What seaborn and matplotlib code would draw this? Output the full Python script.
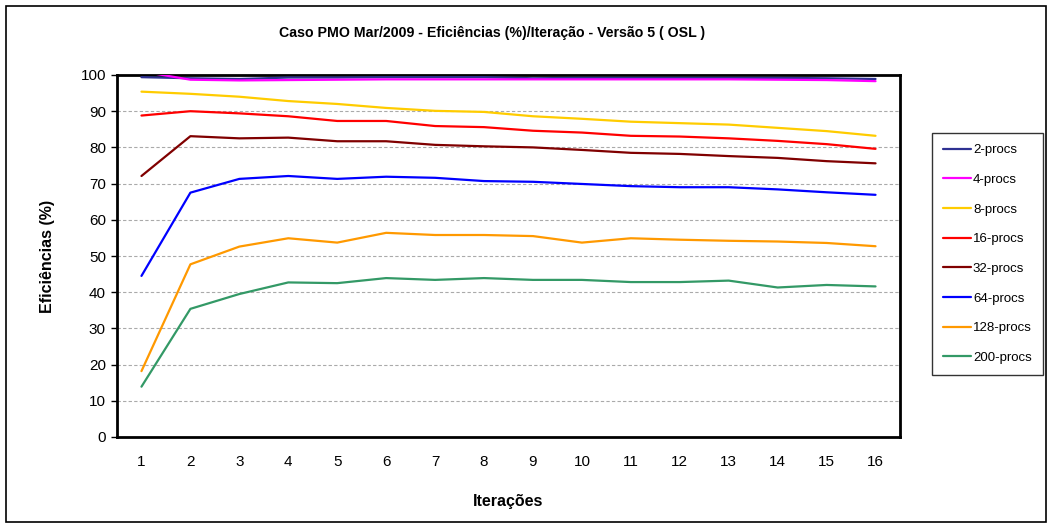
import numpy as np
import pandas as pd
import matplotlib
matplotlib.use("Agg")
import matplotlib.pyplot as plt
import seaborn as sns
from matplotlib.patches import Rectangle

iteracoes = list(range(1, 17))
series_names = ["2-procs", "4-procs", "8-procs", "16-procs",
                "32-procs", "64-procs", "128-procs", "200-procs"]

procs_2 = [99.4, 99.1, 98.9, 99.3, 99.3, 99.4, 99.4, 99.4,
           99.1, 99.2, 99.2, 99.2, 99.2, 99.2, 99.1, 98.9]
procs_4 = [101.0, 98.7, 98.5, 98.6, 98.7, 98.8, 98.8, 98.8,
           98.8, 98.8, 98.8, 98.8, 98.8, 98.7, 98.6, 98.3]
procs_8 = [95.4, 94.8, 94.0, 92.8, 92.0, 90.9, 90.1, 89.8,
           88.6, 87.9, 87.1, 86.7, 86.3, 85.4, 84.5, 83.2]
procs_16 = [88.8, 90.0, 89.4, 88.6, 87.3, 87.3, 85.9, 85.6,
            84.6, 84.1, 83.2, 83.0, 82.5, 81.8, 80.9, 79.6]
procs_32 = [72.1, 83.1, 82.5, 82.7, 81.7, 81.7, 80.7, 80.3,
            80.0, 79.3, 78.5, 78.2, 77.6, 77.1, 76.2, 75.6]
procs_64 = [44.5, 67.5, 71.3, 72.1, 71.3, 71.9, 71.6, 70.7,
            70.5, 69.9, 69.3, 69.0, 69.0, 68.4, 67.6, 66.9]
procs_128 = [18.2, 47.7, 52.6, 54.9, 53.7, 56.4, 55.8, 55.8,
             55.5, 53.7, 54.9, 54.5, 54.2, 54.0, 53.6, 52.7]
procs_200 = [13.9, 35.4, 39.5, 42.7, 42.5, 43.9, 43.4, 43.9,
             43.4, 43.4, 42.8, 42.8, 43.2, 41.3, 42.0, 41.6]

colors = ["#2E3192", "#FF00FF", "#FFCC00", "#FF0000",
          "#800000", "#0000FF", "#FF9900", "#339966"]

all_series = [procs_2, procs_4, procs_8, procs_16,
              procs_32, procs_64, procs_128, procs_200]
df = pd.DataFrame({
    "Iteração": np.tile(iteracoes, len(series_names)),
    "Eficiência": np.concatenate(all_series),
    "Série": np.repeat(series_names, len(iteracoes)),
})

sns.set_theme(style="white")
plt.rcParams["font.family"] = ["Liberation Sans", "DejaVu Sans"]
plt.rcParams["text.color"] = "black"
plt.rcParams["axes.labelcolor"] = "black"
plt.rcParams["xtick.color"] = "black"
plt.rcParams["ytick.color"] = "black"

fig = plt.figure(figsize=(10.57, 5.25), dpi=100)
ax = fig.add_axes([117 / 1057, 1 - 437 / 525, (900 - 117) / 1057, (437 - 75) / 525])

sns.lineplot(data=df, x="Iteração", y="Eficiência", hue="Série",
             hue_order=series_names, palette=colors, linewidth=1.6,
             ax=ax, legend=False, zorder=3)

ax.set_xlim(0.5, 16.5)
ax.set_ylim(0, 100)
ax.set_yticks(np.arange(0, 101, 10))
ax.set_xticks(iteracoes)
ax.set_xticks(np.arange(0.5, 17, 1), minor=True)
ax.tick_params(axis="x", which="major", length=0, labelsize=11, pad=13, colors="black")
ax.tick_params(axis="x", which="minor", length=4, width=1, direction="out", color="black")
ax.tick_params(axis="y", which="major", length=4, width=1, direction="out",
               labelsize=11, pad=4, colors="black", left=True)

ax.yaxis.grid(True, linestyle=(0, (3, 2)), color="#AAAAAA", linewidth=0.8)
ax.set_axisbelow(True)
for side in ["left", "bottom", "top", "right"]:
    ax.spines[side].set_visible(True)
    ax.spines[side].set_color("black")
    ax.spines[side].set_linewidth(2)

ax.set_xlabel("Iterações", fontsize=11.5, fontweight="bold", labelpad=18, color="black")
ax.set_ylabel("Eficiências (%)", fontsize=11.5, fontweight="bold", labelpad=18, color="black")

fig.text(492 / 1057, 1 - 33 / 525, "Caso PMO Mar/2009 - Eficiências (%)/Iteração - Versão 5 ( OSL )",
         ha="center", va="center", fontsize=10.2, fontweight="bold", color="black")

# legend
handles = [plt.Line2D([], [], color=c, linewidth=1.6) for c in colors]
leg = fig.legend(handles, series_names, loc="center left",
                 bbox_to_anchor=(932 / 1057, 1 - 254 / 525),
                 fontsize=9.5, frameon=True, fancybox=False,
                 edgecolor="black", handlelength=2.1, handletextpad=0.15,
                 labelspacing=1.32, borderpad=0.85, borderaxespad=0)
leg.get_frame().set_linewidth(1.0)
for t in leg.get_texts():
    t.set_color("black")

# outer chart border
fig.patches.append(Rectangle((6 / 1057, 3 / 525), 1040 / 1057, 516 / 525,
                             transform=fig.transFigure, fill=False,
                             edgecolor="black", linewidth=1.2))

fig.savefig("out.png", dpi=100)
